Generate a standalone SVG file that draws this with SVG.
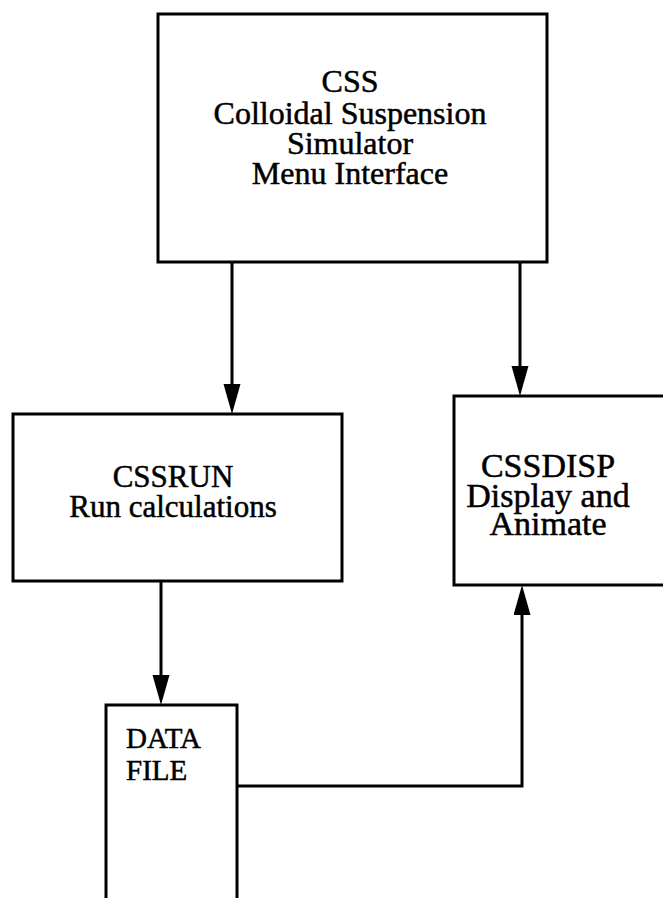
<svg xmlns="http://www.w3.org/2000/svg" width="663" height="898" viewBox="0 0 663 898">
<style>
.box{fill:none;stroke:#000;stroke-width:3}
.t{font-family:"Liberation Serif","Times New Roman",serif;font-size:32px;fill:#000;stroke:#000;stroke-width:0.5}
.c{text-anchor:middle}
.ln{fill:none;stroke:#000;stroke-width:3}
</style>
<defs>
<marker id="arr" markerUnits="userSpaceOnUse" markerWidth="32" markerHeight="18" refX="20" refY="8.5" orient="auto">
<path d="M0,0 L30,8.5 L0,17 z" fill="#000"/>
</marker>
</defs>
<rect width="663" height="898" fill="#fff"/>
<g id="css">
<rect class="box" x="158" y="14" width="389" height="248"/>
<text class="t c" x="350" y="92">CSS</text>
<text class="t c" x="350" y="124">Colloidal Suspension</text>
<text class="t c" x="350" y="154">Simulator</text>
<text class="t c" x="350" y="184">Menu Interface</text>
</g>
<g id="cssrun">
<rect class="box" x="13" y="414" width="329" height="167"/>
<text class="t c" x="173" y="487" style="font-size:31px">CSSRUN</text>
<text class="t c" x="173" y="517" style="font-size:31px">Run calculations</text>
</g>
<g id="cssdisp">
<rect class="box" x="454" y="396" width="230" height="189"/>
<text class="t c" x="548" y="477" style="font-size:34px">CSSDISP</text>
<text class="t c" x="548" y="507" style="font-size:34px">Display and</text>
<text class="t c" x="548" y="535" style="font-size:34px">Animate</text>
</g>
<g id="datafile">
<path class="box" d="M106,900 V705 H237 V900"/>
<text class="t" x="126" y="748" style="font-size:29px">DATA</text>
<text class="t" x="126" y="780" style="font-size:29px">FILE</text>
</g>
<g id="connectors">
<path class="ln" d="M232,262 V404" marker-end="url(#arr)"/>
<path class="ln" d="M520,262 V386" marker-end="url(#arr)"/>
<path class="ln" d="M161,581 V695" marker-end="url(#arr)"/>
<path class="ln" d="M237,786 H522 V595" marker-end="url(#arr)"/>
</g>
</svg>
